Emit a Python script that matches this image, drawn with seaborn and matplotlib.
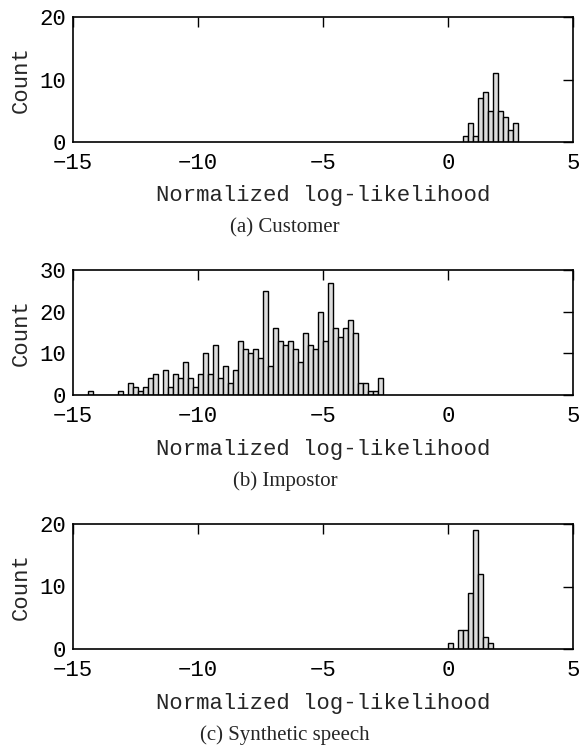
import numpy as np
import pandas as pd
import matplotlib
matplotlib.use("Agg")
import matplotlib.pyplot as plt
import seaborn as sns

sns.set_theme(style="white")
plt.rcParams['font.family'] = ['Liberation Mono', 'DejaVu Sans Mono']

BIN_W = 0.2

# (a) Customer
a_start = 0.6
a_counts = [1, 3, 1, 7, 8, 5, 11, 5, 4, 2, 3]

# (b) Impostor
b_start = -14.4
b_counts = [1, 0, 0, 0, 0, 0,                      # -14.4 .. -13.4
            1, 0, 3, 2, 1, 2, 4, 5, 0, 6,          # -13.2 .. -11.4
            2, 5, 4, 8, 4, 2, 5, 10, 5, 12,        # -11.2 .. -9.4
            4, 7, 3, 6, 13, 11, 10, 11, 9, 25,     # -9.2 .. -7.4
            7, 16, 13, 12, 13, 11, 8, 15, 12, 11,  # -7.2 .. -5.4
            20, 13, 27, 16, 14, 16, 18, 15,        # -5.2 .. -3.8
            3, 3, 1, 1, 4]                         # -3.6 .. -2.8

# (c) Synthetic speech
c_start = 0.0
c_counts = [1, 0, 3, 3, 9, 19, 12, 2, 1]

captions = ["(a) Customer", "(b) Impostor", "(c) Synthetic speech"]
ylims = [20, 30, 20]
x_ticks = [-15, -10, -5, 0, 5]
x_label = "Normalized log-likelihood"
y_label = "Count"

panels = [(a_start, a_counts), (b_start, b_counts), (c_start, c_counts)]

W, H = 587, 749
fig = plt.figure(figsize=(W / 100, H / 100), dpi=100)

ax_left_px, ax_w_px, ax_h_px = 73, 500, 125
ax_tops_px = [17, 270, 524]
FS = 16

for i, ((start, counts), cap, ymax, top) in enumerate(zip(panels, captions, ylims, ax_tops_px)):
    ax = fig.add_axes([ax_left_px / W, 1 - (top + ax_h_px) / H, ax_w_px / W, ax_h_px / H])
    n = len(counts)
    edges = [round(start + BIN_W * k, 6) for k in range(n + 1)]
    centers = [(edges[k] + edges[k + 1]) / 2 for k in range(n)]
    df = pd.DataFrame({"v": centers, "n": counts})
    sns.histplot(data=df, x="v", weights="n", bins=edges, ax=ax,
                 color="#dcdcdc", edgecolor="black", linewidth=1.0, alpha=1.0)
    ax.set_xlim(-15, 5)
    ax.set_ylim(0, ymax)
    ax.set_xticks(x_ticks)
    ax.set_yticks(np.arange(0, ymax + 1, 10))
    ax.tick_params(direction="in", length=7, width=1.0, top=True, right=True,
                   labelsize=FS, colors="black")
    ax.tick_params(axis="x", pad=8)
    ax.tick_params(axis="y", pad=5)
    for s in ax.spines.values():
        s.set_linewidth(1.2)
        s.set_color("black")
    ax.set_xlabel(x_label, fontsize=FS)
    ax.xaxis.label.set_va("center")
    ax.xaxis.set_label_coords(0.5, -54 / ax_h_px)
    ax.set_ylabel(y_label, fontsize=FS)
    ax.yaxis.set_label_coords((32 - ax_left_px) / ax_w_px, 0.5)
    ax.text((285 - ax_left_px) / ax_w_px, -86 / ax_h_px, cap, transform=ax.transAxes,
            ha="center", va="center", fontsize=15, family="Liberation Serif")

fig.savefig("out.png", dpi=100)
